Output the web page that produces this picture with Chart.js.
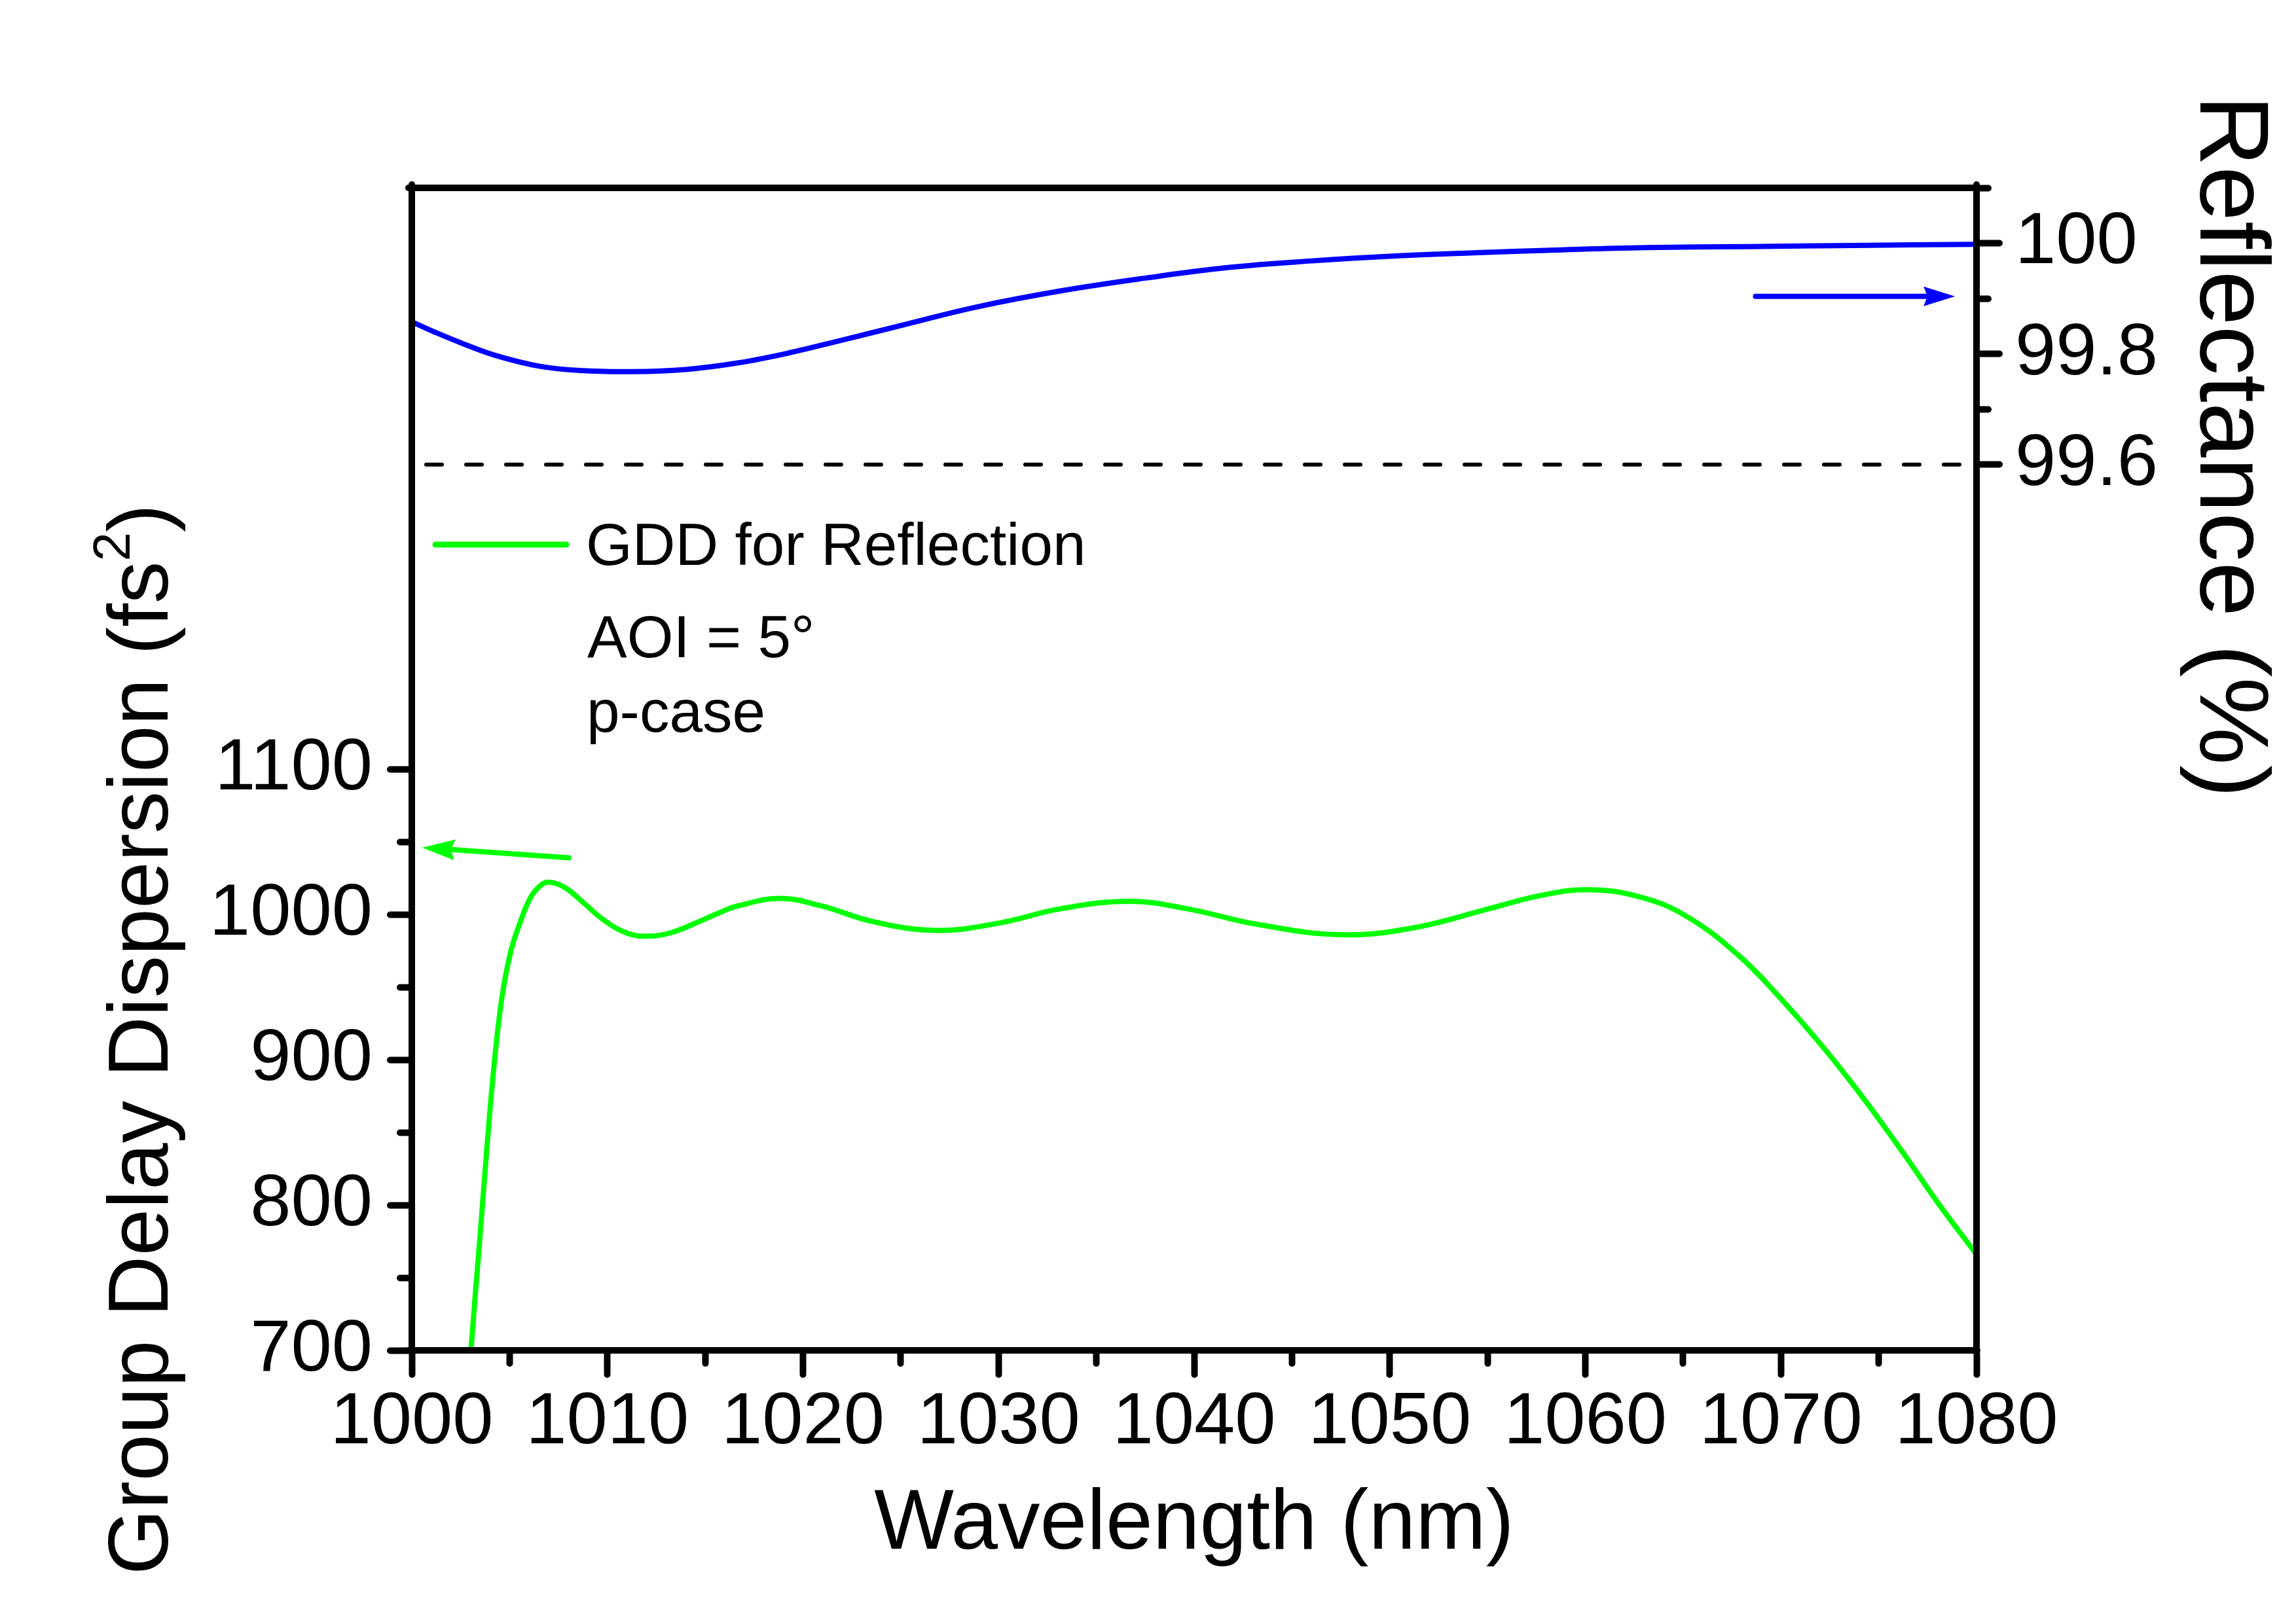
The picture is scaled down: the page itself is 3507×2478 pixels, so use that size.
<!DOCTYPE html>
<html>
<head>
<meta charset="utf-8">
<script src="https://cdn.jsdelivr.net/npm/chart.js@4.4.1/dist/chart.umd.min.js"></script>
<style>
  html, body { margin: 0; padding: 0; background: #ffffff; }
  canvas { display: block; }
</style>
</head>
<body>
<canvas id="c" width="3507" height="2478"></canvas>
<script>
// ---------------- data ----------------
const wavelengthGDD = [1002.4, 1003.03, 1003.48, 1003.85, 1004.22, 1004.6, 1005.05, 1005.5, 1006.09, 1006.69,
  1007.14, 1007.89, 1008.78, 1009.83, 1011.02, 1012.07, 1013.27, 1014.76, 1015.78, 1016.7,
  1018.8, 1020.9, 1023.6, 1026.8, 1030.0, 1033.2, 1036.7, 1039.6, 1043.3, 1047.6,
  1051.3, 1055.1, 1057.7, 1060.1, 1062.8, 1065.2, 1067.9, 1070.0, 1072.2, 1074.3,
  1076.4, 1078.0, 1080.0];
const gddValues = [580, 701, 777, 841, 898, 942, 974, 993, 1012, 1021,
  1022, 1018, 1008, 996, 987, 985, 987.5, 995.5, 1001.5, 1006,
  1011, 1006, 995, 989, 994, 1004, 1009, 1004, 993, 986,
  991, 1004, 1013, 1017, 1012, 998.5, 971, 942, 908, 872,
  833, 802, 766];

const wavelengthR = [1000, 1001.2, 1002.8, 1004.4, 1006.5, 1008.6, 1011.3, 1014.0, 1016.7, 1019.3,
  1022.0, 1025.2, 1028.9, 1033.2, 1037.5, 1041.7, 1046.0, 1050.3, 1054.5, 1058.8,
  1063.1, 1068.4, 1073.8, 1080];
const reflectanceValues = [99.858, 99.839, 99.816, 99.796, 99.778, 99.770, 99.768, 99.772, 99.784, 99.802,
  99.825, 99.853, 99.885, 99.914, 99.937, 99.956, 99.968, 99.977, 99.983, 99.988,
  99.992, 99.994, 99.996, 99.998];

const referenceLevel = 99.6;            // dashed line (%)
const xRange = [1000, 1080];
const gddRange = [700, 1500];
const reflRange = [98, 100.1];

const xTickLabels = [1000, 1010, 1020, 1030, 1040, 1050, 1060, 1070, 1080];
const gddTickLabels = [700, 800, 900, 1000, 1100];
const reflTickLabels = [99.6, 99.8, 100];

const legendLabel = 'GDD for Reflection';
const noteLines = ['AOI = 5°', 'p-case'];
const xTitle = 'Wavelength (nm)';
const yTitleParts = ['Group Delay Dispersion (fs', '2', ')'];
const y2Title = 'Reflectance (%)';

// arrows pointing to the axis of each curve (data coordinates)
const gddArrowFrom = [1008.03, 1039];
const gddArrowTo = [1000.53, 1046];
const reflArrowFrom = [1068.7, 99.904];
const reflArrowTo = [1078.9, 99.904];

// ---------------- styling ----------------
const GREEN = '#00ff00';
const BLUE = '#0000ff';
const FAMILY = "'Liberation Sans', Arial, Helvetica, sans-serif";
const near = (a, b) => Math.abs(a - b) < 1e-6;

function drawArrow(ctx, x1, y1, x2, y2, color, width, headLen, headHalf) {
  const a = Math.atan2(y2 - y1, x2 - x1);
  const c = Math.cos(a), s = Math.sin(a);
  const bx = x2 - headLen * c, by = y2 - headLen * s;
  ctx.strokeStyle = color;
  ctx.fillStyle = color;
  ctx.lineWidth = width;
  ctx.lineCap = 'round';
  ctx.beginPath();
  ctx.moveTo(x1, y1);
  ctx.lineTo(bx + 4 * c, by + 4 * s);
  ctx.stroke();
  ctx.beginPath();
  ctx.moveTo(x2, y2);
  ctx.lineTo(bx - headHalf * s, by + headHalf * c);
  ctx.lineTo(bx + 6 * c, by + 6 * s);
  ctx.lineTo(bx + headHalf * s, by - headHalf * c);
  ctx.closePath();
  ctx.fill();
}

const decorPlugin = {
  id: 'decor',
  beforeDraw(chart) { chart.ctx.lineCap = 'round'; },
  afterDraw(chart) {
    const { ctx, chartArea: ca, scales } = chart;
    ctx.save();
    // arrows
    drawArrow(ctx,
      scales.x.getPixelForValue(gddArrowFrom[0]), scales.y.getPixelForValue(gddArrowFrom[1]),
      scales.x.getPixelForValue(gddArrowTo[0]), scales.y.getPixelForValue(gddArrowTo[1]),
      GREEN, 8, 50, 16);
    drawArrow(ctx,
      scales.x.getPixelForValue(reflArrowFrom[0]), scales.y2.getPixelForValue(reflArrowFrom[1]),
      scales.x.getPixelForValue(reflArrowTo[0]), scales.y2.getPixelForValue(reflArrowTo[1]),
      BLUE, 8, 48, 15);

    // legend
    ctx.strokeStyle = GREEN;
    ctx.lineWidth = 9;
    ctx.lineCap = 'round';
    ctx.beginPath();
    ctx.moveTo(ca.left + 36, ca.top + 545);
    ctx.lineTo(ca.left + 236, ca.top + 545);
    ctx.stroke();
    ctx.fillStyle = '#000';
    ctx.font = `91px ${FAMILY}`;
    ctx.textAlign = 'left';
    ctx.textBaseline = 'alphabetic';
    ctx.fillText(legendLabel, ca.left + 266, ca.top + 576);
    ctx.fillText(noteLines[0], ca.left + 268, ca.top + 717);
    ctx.fillText(noteLines[1], ca.left + 267, ca.top + 831);

    // x title
    ctx.font = `129px ${FAMILY}`;
    ctx.textAlign = 'center';
    ctx.fillText(xTitle, (ca.left + ca.right) / 2, ca.bottom + 303);

    // left title (rotated, with superscript)
    ctx.save();
    ctx.translate(ca.left - 373, ca.bottom - 475);
    ctx.rotate(-Math.PI / 2);
    ctx.textAlign = 'left';
    const mainFont = `129px ${FAMILY}`, supFont = `80px ${FAMILY}`;
    ctx.font = mainFont; const w0 = ctx.measureText(yTitleParts[0]).width;
    ctx.font = supFont; const w1 = ctx.measureText(yTitleParts[1]).width;
    ctx.font = mainFont; const w2 = ctx.measureText(yTitleParts[2]).width;
    let px = -(w0 + w1 + w2) / 2;
    ctx.font = mainFont; ctx.fillText(yTitleParts[0], px, 0); px += w0;
    ctx.font = supFont; ctx.fillText(yTitleParts[1], px, -58); px += w1;
    ctx.font = mainFont; ctx.fillText(yTitleParts[2], px, 0);
    ctx.restore();

    // right title (rotated)
    ctx.save();
    ctx.translate(ca.right + 342, ca.top + 395);
    ctx.rotate(Math.PI / 2);
    ctx.font = `151px ${FAMILY}`;
    ctx.textAlign = 'center';
    ctx.fillText(y2Title, 0, 0);
    ctx.restore();

    ctx.restore();
    ctx.lineCap = 'butt';
  }
};

const tickFont = { family: FAMILY, size: 112 };

new Chart(document.getElementById('c'), {
  type: 'line',
  data: {
    datasets: [
      {
        label: legendLabel,
        data: wavelengthGDD.map((x, i) => ({ x, y: gddValues[i] })),
        xAxisID: 'x', yAxisID: 'y',
        borderColor: GREEN, borderWidth: 8, pointRadius: 0,
        tension: 0.4, fill: false, order: 1
      },
      {
        label: 'Reflectance',
        data: wavelengthR.map((x, i) => ({ x, y: reflectanceValues[i] })),
        xAxisID: 'x', yAxisID: 'y2',
        borderColor: BLUE, borderWidth: 8, pointRadius: 0,
        tension: 0.4, fill: false, order: 2
      },
      {
        label: 'Reference 99.6 %',
        data: [{ x: xRange[0], y: referenceLevel }, { x: xRange[1], y: referenceLevel }],
        xAxisID: 'x', yAxisID: 'y2',
        borderColor: '#000', borderWidth: 6, borderDash: [24, 37], borderDashOffset: 39,
        borderCapStyle: 'round', pointRadius: 0, fill: false, order: 3
      }
    ]
  },
  options: {
    responsive: false,
    animation: false,
    devicePixelRatio: 1,
    layout: { padding: { left: 0, right: 0, top: 287, bottom: 0 } },
    plugins: { legend: { display: false }, tooltip: { enabled: false } },
    scales: {
      x: {
        type: 'linear', position: 'bottom', min: xRange[0], max: xRange[1],
        afterFit: s => { s.height = 415; },
        border: { display: true, color: '#000', width: 10, z: 1 },
        grid: {
          drawOnChartArea: false, drawTicks: true, tickLength: 37, z: 1,
          tickColor: '#000', tickWidth: 10,
          tickBorderDash: c => (c.tick && xTickLabels.includes(c.tick.value)) ? [] : [15, 1000],
          tickBorderDashOffset: 0
        },
        ticks: {
          stepSize: 5, autoSkip: false, maxRotation: 0, minRotation: 0,
          padding: 7, color: '#000', font: tickFont,
          callback: v => xTickLabels.includes(v) ? String(v) : ''
        }
      },
      xTop: {
        type: 'linear', position: 'top', min: xRange[0], max: xRange[1],
        afterFit: s => { s.height = 0; },
        border: { display: true, color: '#000', width: 10, z: 1 },
        grid: { display: false },
        ticks: { display: false }
      },
      y: {
        type: 'linear', position: 'left', min: gddRange[0], max: gddRange[1],
        afterFit: s => { s.width = 629; },
        afterBuildTicks: s => { s.ticks = s.ticks.filter(t => t.value <= gddTickLabels[gddTickLabels.length - 1] + 1e-6); },
        border: { display: true, color: '#000', width: 10, z: 1 },
        grid: {
          drawOnChartArea: false, drawTicks: true, tickLength: 33, z: 1,
          tickColor: '#000', tickWidth: 10,
          tickBorderDash: c => (c.tick && gddTickLabels.includes(c.tick.value)) ? [] : [13, 1000],
          tickBorderDashOffset: c => (c.tick && gddTickLabels.includes(c.tick.value)) ? 0 : -15
        },
        ticks: {
          stepSize: 50, autoSkip: false, padding: 27, color: '#000', font: tickFont,
          callback: v => gddTickLabels.includes(v) ? String(v) : ''
        }
      },
      y2: {
        type: 'linear', position: 'right', min: reflRange[0], max: reflRange[1],
        afterFit: s => { s.width = 488; },
        border: { display: true, color: '#000', width: 10, z: 1 },
        grid: {
          drawOnChartArea: false, drawTicks: true, tickLength: 35, z: 1,
          tickWidth: 10,
          tickColor: c => (c.tick && c.tick.value > referenceLevel - 0.05) ? '#000' : 'rgba(0,0,0,0)',
          tickBorderDash: c => (c.tick && reflTickLabels.some(l => near(l, c.tick.value))) ? [] : [13, 1000],
          tickBorderDashOffset: 0
        },
        ticks: {
          stepSize: 0.1, autoSkip: false, padding: 24, color: '#000', font: tickFont,
          callback: v => {
            const hit = reflTickLabels.find(l => near(l, v));
            return hit !== undefined ? String(hit) : '';
          }
        }
      }
    }
  },
  plugins: [decorPlugin]
});
</script>
</body>
</html>
